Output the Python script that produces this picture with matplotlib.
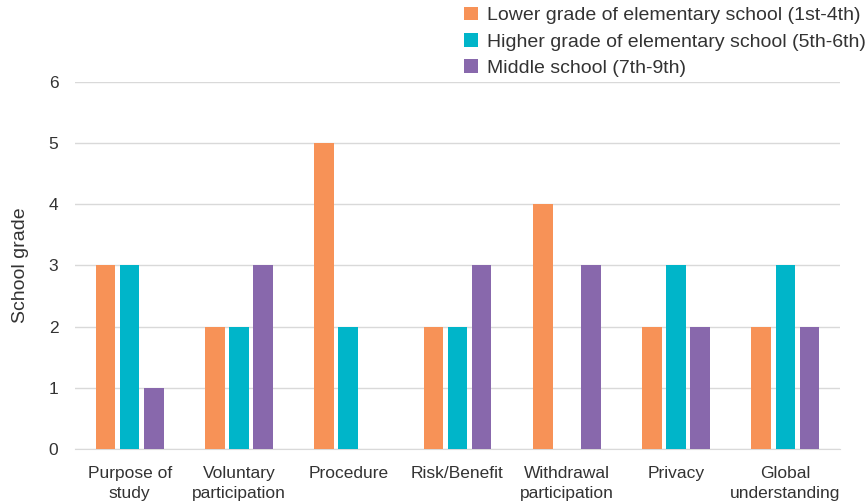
import numpy as np
import matplotlib.pyplot as plt

plt.rcParams['font.family'] = ['Liberation Sans', 'DejaVu Sans']

categories = ["Purpose of\nstudy", "Voluntary\nparticipation", "Procedure", "Risk/Benefit",
              "Withdrawal\nparticipation", "Privacy", "Global\nunderstanding"]
lower = [3, 2, 5, 2, 4, 2, 2]
higher = [3, 2, 2, 2, 0, 3, 3]
middle = [1, 3, 0, 3, 3, 2, 2]
series_names = ["Lower grade of elementary school (1st-4th)",
                "Higher grade of elementary school (5th-6th)",
                "Middle school (7th-9th)"]
colors = ["#F79257", "#00B5C9", "#8868AC"]
text_color = "#333333"

fig = plt.figure(figsize=(8.65, 5.03), dpi=100)
ax = fig.add_axes([0.0867, 0.1074, 0.8844, 0.7296])

x = np.arange(len(categories))
step = 0.22
for i, (vals, name, c) in enumerate(zip([lower, higher, middle], series_names, colors)):
    ax.bar(x + (i - 1) * step, vals, width=0.18, color=c, label=name, zorder=3)

ax.set_xlim(-0.5, 6.5)
ax.set_ylim(0, 6)
ax.set_yticks(range(7))
ax.set_xticks(x)
ax.set_xticklabels(categories, fontsize=12.5, color=text_color, linespacing=1.45)
ax.tick_params(axis="y", labelsize=12.5, labelcolor=text_color, length=0, pad=12)
ax.tick_params(axis="x", length=0, pad=12)
ax.grid(axis="y", color="#d9d9d9", linewidth=1, zorder=0)
for s in ["top", "right", "left"]:
    ax.spines[s].set_visible(False)
ax.spines["bottom"].set_color("#d9d9d9")
ax.set_ylabel("School grade", fontsize=14, color=text_color, labelpad=14)

leg = fig.legend(loc="upper left", bbox_to_anchor=(0.528, 1.002), frameon=False, fontsize=14,
                 handlelength=0.7, handleheight=0.7, handletextpad=0.45, labelspacing=0.45,
                 borderaxespad=0)
for t in leg.get_texts():
    t.set_color(text_color)

fig.savefig("out.png", dpi=100)
